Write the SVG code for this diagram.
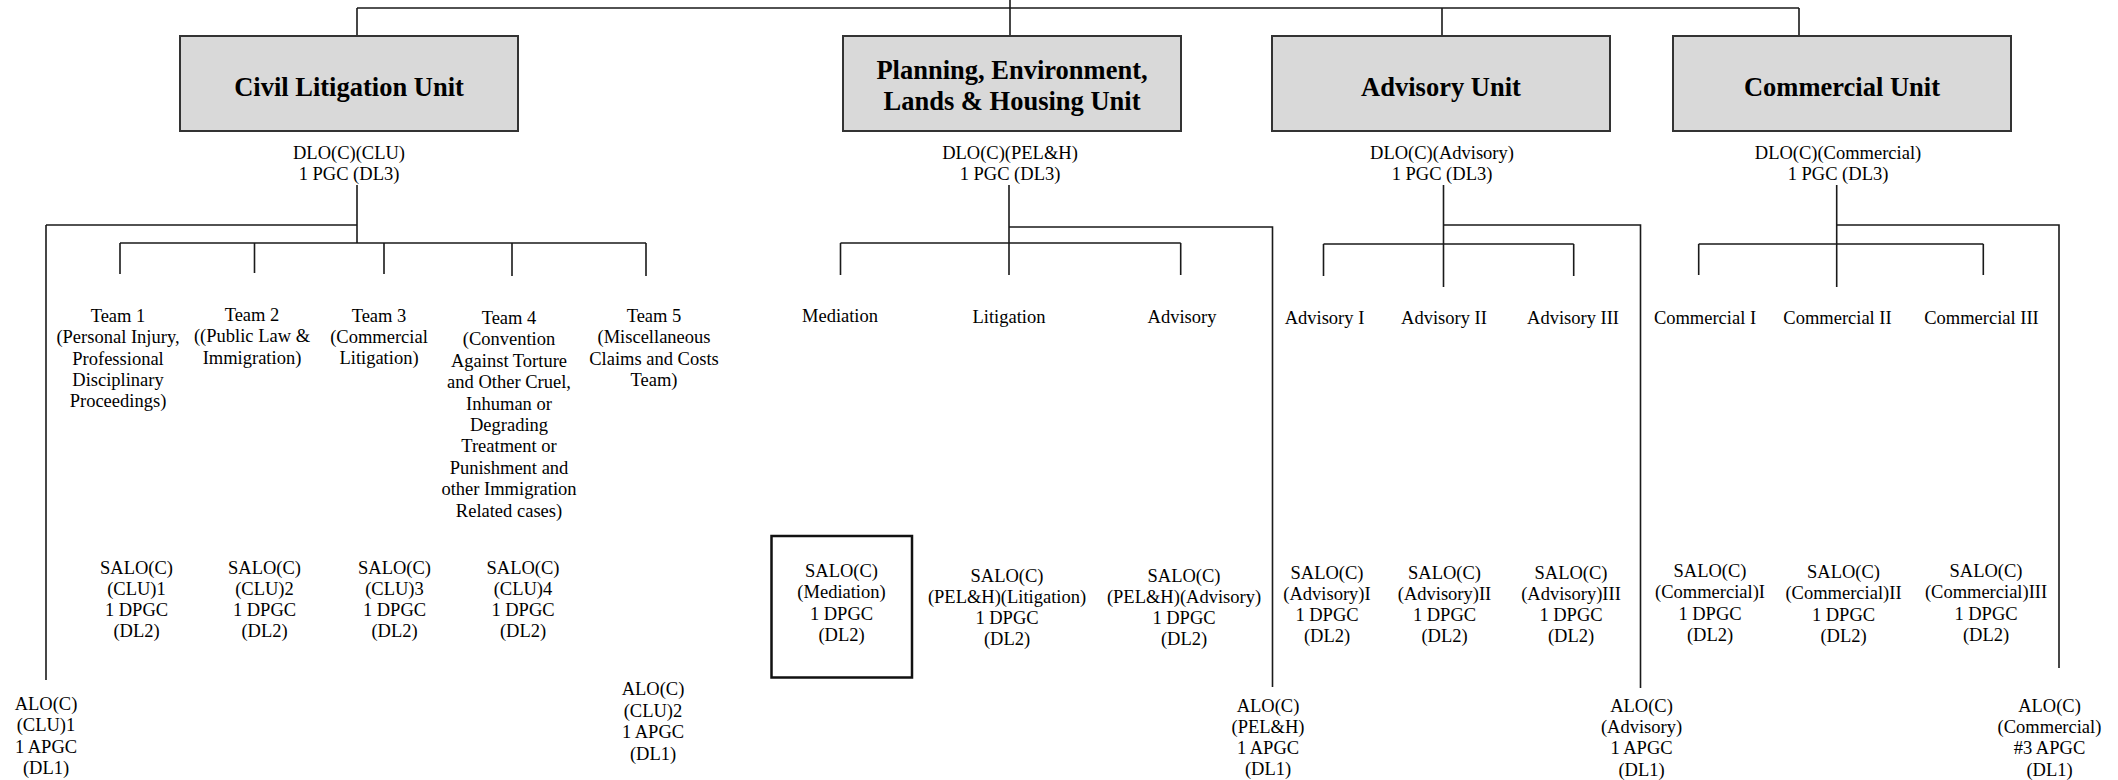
<svg xmlns="http://www.w3.org/2000/svg" width="2118" height="780" viewBox="0 0 2118 780">
<style>
.t{font-family:"Liberation Serif","Times New Roman",serif;font-size:18.5px;text-anchor:middle;fill:#000}
.h{font-family:"Liberation Serif","Times New Roman",serif;font-size:26.5px;font-weight:bold;text-anchor:middle;fill:#000}
.unit{fill:#d9d9d9;stroke:#333;stroke-width:2}
.ln{stroke:#1a1a1a;stroke-width:1.6;fill:none}
.bx{fill:none;stroke:#111;stroke-width:2.5}
</style>
<rect width="2118" height="780" fill="#fff"/>
<g id="connectors" class="ln">
<path d="M1010,0 V8 M357,8 H1799 M357,8 V36 M1010,8 V36 M1442,8 V36 M1799,8 V36"/>
<path d="M357,185 V243 M46,225 H357 M46,225 V680 M120,243 H646 M120,243 V274 M254.5,243 V273 M384,243 V274 M512,243 V276 M646,243 V276"/>
<path d="M1009,185 V275 M1009,227 H1272.5 V687 M840.5,243 H1180.7 M840.5,243 V275 M1180.7,243 V275"/>
<path d="M1443.5,185 V287 M1443.5,225 H1640.5 V688 M1323.5,244 H1573.7 M1323.5,244 V276 M1573.7,244 V276"/>
<path d="M1836.7,185 V287 M1836.7,225 H2059 V668 M1698.7,244 H1983.3 M1698.7,244 V275 M1983.3,244 V275"/>
</g>
<g id="unit-clu"><rect class="unit" x="180" y="36" width="338" height="95"/><text class="h" x="349" y="96">Civil Litigation Unit</text></g>
<g id="unit-pel"><rect class="unit" x="843" y="36" width="338" height="95"/><text class="h" x="1012" y="79">Planning, Environment,<tspan x="1012" dy="31">Lands &amp; Housing Unit</tspan></text></g>
<g id="unit-adv"><rect class="unit" x="1272" y="36" width="338" height="95"/><text class="h" x="1441" y="96">Advisory Unit</text></g>
<g id="unit-com"><rect class="unit" x="1673" y="36" width="338" height="95"/><text class="h" x="1842" y="96">Commercial Unit</text></g>

<g id="dlo-clu"><text class="t" x="349" y="159">DLO(C)(CLU)<tspan x="349" dy="21">1 PGC (DL3)</tspan></text></g>
<g id="dlo-pel"><text class="t" x="1010" y="159">DLO(C)(PEL&amp;H)<tspan x="1010" dy="21">1 PGC (DL3)</tspan></text></g>
<g id="dlo-adv"><text class="t" x="1442" y="159">DLO(C)(Advisory)<tspan x="1442" dy="21">1 PGC (DL3)</tspan></text></g>
<g id="dlo-com"><text class="t" x="1838" y="159">DLO(C)(Commercial)<tspan x="1838" dy="21">1 PGC (DL3)</tspan></text></g>

<g id="team1"><text class="t" x="118" y="322">Team 1<tspan x="118" dy="21.3">(Personal Injury,</tspan><tspan x="118" dy="21.3">Professional</tspan><tspan x="118" dy="21.3">Disciplinary</tspan><tspan x="118" dy="21.3">Proceedings)</tspan></text></g>
<g id="team2"><text class="t" x="252" y="321">Team 2<tspan x="252" dy="21.3">((Public Law &amp;</tspan><tspan x="252" dy="21.3">Immigration)</tspan></text></g>
<g id="team3"><text class="t" x="379" y="321.5">Team 3<tspan x="379" dy="21.3">(Commercial</tspan><tspan x="379" dy="21.3">Litigation)</tspan></text></g>
<g id="team4"><text class="t" x="509" y="324">Team 4<tspan x="509" dy="21.4">(Convention</tspan><tspan x="509" dy="21.4">Against Torture</tspan><tspan x="509" dy="21.4">and Other Cruel,</tspan><tspan x="509" dy="21.4">Inhuman or</tspan><tspan x="509" dy="21.4">Degrading</tspan><tspan x="509" dy="21.4">Treatment or</tspan><tspan x="509" dy="21.4">Punishment and</tspan><tspan x="509" dy="21.4">other Immigration</tspan><tspan x="509" dy="21.4">Related cases)</tspan></text></g>
<g id="team5"><text class="t" x="654" y="322">Team 5<tspan x="654" dy="21.3">(Miscellaneous</tspan><tspan x="654" dy="21.3">Claims and Costs</tspan><tspan x="654" dy="21.3">Team)</tspan></text></g>

<g id="salo-clu1"><text class="t" x="136.5" y="573.5">SALO(C)<tspan x="136.5" dy="21.2">(CLU)1</tspan><tspan x="136.5" dy="21.2">1 DPGC</tspan><tspan x="136.5" dy="21.2">(DL2)</tspan></text></g>
<g id="salo-clu2"><text class="t" x="264.5" y="573.5">SALO(C)<tspan x="264.5" dy="21.2">(CLU)2</tspan><tspan x="264.5" dy="21.2">1 DPGC</tspan><tspan x="264.5" dy="21.2">(DL2)</tspan></text></g>
<g id="salo-clu3"><text class="t" x="394.5" y="573.5">SALO(C)<tspan x="394.5" dy="21.2">(CLU)3</tspan><tspan x="394.5" dy="21.2">1 DPGC</tspan><tspan x="394.5" dy="21.2">(DL2)</tspan></text></g>
<g id="salo-clu4"><text class="t" x="523" y="573.5">SALO(C)<tspan x="523" dy="21.2">(CLU)4</tspan><tspan x="523" dy="21.2">1 DPGC</tspan><tspan x="523" dy="21.2">(DL2)</tspan></text></g>

<g id="alo-clu1"><text class="t" x="46" y="710">ALO(C)<tspan x="46" dy="21.3">(CLU)1</tspan><tspan x="46" dy="21.3">1 APGC</tspan><tspan x="46" dy="21.3">(DL1)</tspan></text></g>
<g id="alo-clu2"><text class="t" x="653" y="695">ALO(C)<tspan x="653" dy="21.5">(CLU)2</tspan><tspan x="653" dy="21.5">1 APGC</tspan><tspan x="653" dy="21.5">(DL1)</tspan></text></g>

<g id="pel-mediation"><text class="t" x="840" y="322">Mediation</text></g>
<g id="pel-litigation"><text class="t" x="1009" y="323">Litigation</text></g>
<g id="pel-advisory"><text class="t" x="1182" y="323">Advisory</text></g>

<g id="salo-mediation"><rect class="bx" x="771.5" y="536" width="140.5" height="141.5"/><text class="t" x="841.5" y="577">SALO(C)<tspan x="841.5" dy="21.4">(Mediation)</tspan><tspan x="841.5" dy="21.4">1 DPGC</tspan><tspan x="841.5" dy="21.4">(DL2)</tspan></text></g>
<g id="salo-pel-lit"><text class="t" x="1007" y="581.5">SALO(C)<tspan x="1007" dy="21.2">(PEL&amp;H)(Litigation)</tspan><tspan x="1007" dy="21.2">1 DPGC</tspan><tspan x="1007" dy="21.2">(DL2)</tspan></text></g>
<g id="salo-pel-adv"><text class="t" x="1184" y="581.5">SALO(C)<tspan x="1184" dy="21.2">(PEL&amp;H)(Advisory)</tspan><tspan x="1184" dy="21.2">1 DPGC</tspan><tspan x="1184" dy="21.2">(DL2)</tspan></text></g>
<g id="alo-pel"><text class="t" x="1268" y="711.5">ALO(C)<tspan x="1268" dy="21.2">(PEL&amp;H)</tspan><tspan x="1268" dy="21.2">1 APGC</tspan><tspan x="1268" dy="21.2">(DL1)</tspan></text></g>

<g id="adv-1"><text class="t" x="1324.5" y="323.5">Advisory I</text></g>
<g id="adv-2"><text class="t" x="1444" y="323.5">Advisory II</text></g>
<g id="adv-3"><text class="t" x="1573" y="323.5">Advisory III</text></g>
<g id="salo-adv1"><text class="t" x="1327" y="578.5">SALO(C)<tspan x="1327" dy="21.3">(Advisory)I</tspan><tspan x="1327" dy="21.3">1 DPGC</tspan><tspan x="1327" dy="21.3">(DL2)</tspan></text></g>
<g id="salo-adv2"><text class="t" x="1444.5" y="578.5">SALO(C)<tspan x="1444.5" dy="21.3">(Advisory)II</tspan><tspan x="1444.5" dy="21.3">1 DPGC</tspan><tspan x="1444.5" dy="21.3">(DL2)</tspan></text></g>
<g id="salo-adv3"><text class="t" x="1571" y="578.5">SALO(C)<tspan x="1571" dy="21.3">(Advisory)III</tspan><tspan x="1571" dy="21.3">1 DPGC</tspan><tspan x="1571" dy="21.3">(DL2)</tspan></text></g>
<g id="alo-adv"><text class="t" x="1641.5" y="711.5">ALO(C)<tspan x="1641.5" dy="21.4">(Advisory)</tspan><tspan x="1641.5" dy="21.4">1 APGC</tspan><tspan x="1641.5" dy="21.4">(DL1)</tspan></text></g>

<g id="com-1"><text class="t" x="1705" y="323.5">Commercial I</text></g>
<g id="com-2"><text class="t" x="1837.5" y="323.5">Commercial II</text></g>
<g id="com-3"><text class="t" x="1981.5" y="323.5">Commercial III</text></g>
<g id="salo-com1"><text class="t" x="1710" y="577">SALO(C)<tspan x="1710" dy="21.3">(Commercial)I</tspan><tspan x="1710" dy="21.3">1 DPGC</tspan><tspan x="1710" dy="21.3">(DL2)</tspan></text></g>
<g id="salo-com2"><text class="t" x="1843.5" y="578">SALO(C)<tspan x="1843.5" dy="21.3">(Commercial)II</tspan><tspan x="1843.5" dy="21.3">1 DPGC</tspan><tspan x="1843.5" dy="21.3">(DL2)</tspan></text></g>
<g id="salo-com3"><text class="t" x="1986" y="577">SALO(C)<tspan x="1986" dy="21.3">(Commercial)III</tspan><tspan x="1986" dy="21.3">1 DPGC</tspan><tspan x="1986" dy="21.3">(DL2)</tspan></text></g>
<g id="alo-com"><text class="t" x="2049.5" y="711.5">ALO(C)<tspan x="2049.5" dy="21.4">(Commercial)</tspan><tspan x="2049.5" dy="21.4">#3 APGC</tspan><tspan x="2049.5" dy="21.4">(DL1)</tspan></text></g>
</svg>
